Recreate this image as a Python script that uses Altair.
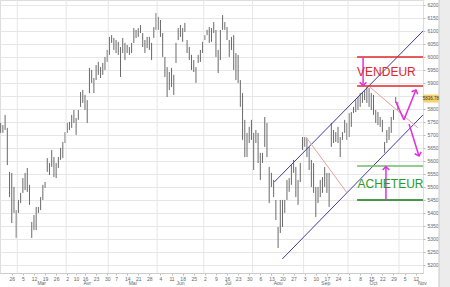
import altair as alt
import pandas as pd

# ---- daily high / low (CAC 40, 2007), one value per trading day from 19 Feb
highs = [5746, 5738, 5777, 5727, 5558, 5554, 5500, 5411, 5450, 5477,
         5534, 5554, 5573, 5508, 5365, 5392, 5423, 5423, 5461, 5508,
         5519, 5611, 5592, 5642, 5615, 5592, 5615, 5650, 5673, 5711,
         5746, 5750, 5777, 5796, 5765, 5796, 5865, 5873, 5854, 5834,
         5958, 5950, 5919, 5969, 5981, 5961, 5977, 6000, 6027, 6077,
         6084, 6073, 6065, 6058, 6038, 6073, 6054, 6046, 6038, 6054,
         6111, 6104, 6111, 6123, 6092, 6065, 6077, 6077, 6054, 6115,
         6169, 6154, 6142, 6092, 6000, 5961, 5942, 5958, 5931, 6054,
         6111, 6123, 6111, 6131, 6065, 6038, 6008, 5988, 5961, 6008,
         6027, 6058, 6084, 6104, 6115, 6111, 6134, 6104, 6027, 6104,
         6161, 6134, 6115, 6065, 6077, 6084, 6015, 6008, 5911, 5861,
         5758, 5708, 5731, 5758, 5708, 5719, 5708, 5631, 5631, 5769,
         5746, 5577, 5554, 5527, 5450, 5346, 5450, 5450, 5450, 5527,
         5534, 5584, 5604, 5577, 5527, 5592, 5692, 5692, 5688, 5654,
         5604, 5592, 5500, 5500, 5527, 5538, 5577, 5554, 5554, 5746,
         5719, 5711, 5731, 5692, 5711, 5758, 5746, 5784, 5788, 5808,
         5834, 5846, 5861, 5865, 5873, 5884, 5881, 5861, 5854, 5796,
         5788, 5769, 5758, 5673, 5719, 5731, 5769, 5796, 5846, 5827]
lows = [5708, 5708, 5719, 5584, 5461, 5361, 5400, 5304, 5400, 5438,
        5477, 5488, 5481, 5431, 5304, 5334, 5334, 5400, 5411, 5450,
        5496, 5558, 5546, 5577, 5538, 5534, 5573, 5604, 5611, 5669,
        5708, 5719, 5727, 5746, 5700, 5758, 5808, 5823, 5796, 5746,
        5861, 5900, 5861, 5911, 5931, 5919, 5931, 5950, 5981, 6008,
        6054, 6027, 6015, 6008, 5923, 6015, 5988, 6015, 6008, 6015,
        6054, 6073, 6077, 6092, 6038, 6015, 6034, 6027, 5988, 6073,
        6104, 6104, 6077, 6000, 5923, 5846, 5873, 5884, 5854, 5977,
        6065, 6077, 6058, 6096, 6015, 5988, 5950, 5942, 5900, 5977,
        5981, 6015, 6065, 6084, 6054, 6058, 6092, 6000, 5938, 5988,
        6104, 6104, 6065, 6000, 6027, 5950, 5911, 5900, 5808, 5681,
        5615, 5615, 5669, 5681, 5565, 5669, 5592, 5527, 5592, 5654,
        5615, 5438, 5500, 5461, 5373, 5265, 5323, 5346, 5400, 5450,
        5481, 5508, 5554, 5461, 5431, 5519, 5642, 5654, 5615, 5565,
        5500, 5477, 5384, 5438, 5461, 5477, 5500, 5477, 5423, 5654,
        5669, 5673, 5669, 5615, 5681, 5708, 5681, 5692, 5731, 5784,
        5788, 5796, 5808, 5823, 5834, 5823, 5808, 5796, 5777, 5746,
        5738, 5731, 5711, 5631, 5669, 5681, 5708, 5758, 5823, 5796]
last_price = "5836.78"
last_price_level = 5840

y_ticks = list(range(5200, 6201, 50))
month_names = ["Mar", "Avr", "Mai", "Jun", "Jul", "Aou", "Sep", "Oct", "Nov"]
holidays = ["2007-04-06", "2007-04-09", "2007-05-01"]

# annotation lines (trading-day index, price)
channel = [(123.3, 5519, 190.3, 6100), (126.9, 5223, 190.3, 5777)]
pink = [(137.6, 5692, 156.1, 5477), (166.4, 5884, 188.0, 5727)]
red = [(160.6, 6000, 190.3, 6000), (160.6, 5888, 190.3, 5888)]
green_light = [(160.6, 5581, 190.3, 5581)]
green_dark = [(160.6, 5450, 190.3, 5450)]
magenta = [(163.3, 6000, 163.3, 5890), (173.6, 5450, 173.6, 5578),
           (178.1, 5827, 181.7, 5758), (181.7, 5758, 187.1, 5873),
           (184.0, 5742, 188.5, 5619)]
heads = [(163.3, 5890, 180), (173.6, 5578, 0), (187.1, 5873, 22), (188.5, 5619, 163)]

# ---- calendar of trading days
cal = [d for d in pd.bdate_range("2007-02-19", "2007-11-20")
       if d.strftime("%Y-%m-%d") not in holidays]
n_days = len(cal)

bars = pd.DataFrame({"s": list(range(len(highs))), "high": highs, "low": lows})

week_idx, week_lab = [], []
for i, d in enumerate(cal):
    if i > 0 and d.isocalendar()[1] != cal[i - 1].isocalendar()[1]:
        week_idx.append(i)
        week_lab.append(str(d.day))
lab_arr = [""] * n_days
for i, l in zip(week_idx, week_lab):
    lab_arr[i] = l
label_expr = "[" + ",".join("'%s'" % l for l in lab_arr) + "][datum.value]"

month_start = []
for i, d in enumerate(cal):
    if i > 0 and d.month != cal[i - 1].month:
        month_start.append(i)
month_start = month_start[:9]
mdf = pd.DataFrame({"s": [m - 0.5 for m in month_start]})
mid = []
for k, m in enumerate(month_start):
    nxt = month_start[k + 1] if k + 1 < len(month_start) else m + 21
    mid.append((m + nxt) / 2 - 0.5)
mlab = pd.DataFrame({"s": mid, "t": month_names})

xs = alt.Scale(domain=[-0.3, 190.3], nice=False, zero=False)
ys = alt.Scale(domain=[5169, 6219], nice=False, zero=False)

x_axis = alt.Axis(
    values=week_idx, labelExpr=label_expr, grid=False, labelFontSize=5,
    labelColor="#666", tickSize=2, tickColor="#bbb", domainColor="#ccc",
    labelPadding=1, labelOverlap=False, labelFlush=False, labelAngle=0,
    labelFont="Liberation Sans")
y_axis = alt.Axis(
    orient="right", values=y_ticks, format="d", labelFontSize=5,
    labelExpr="datum.value == %d ? '' : datum.label" % 5850,
    labelColor="#666", tickSize=2, tickColor="#bbb", domain=False,
    gridColor="#e6e6e6", labelPadding=2, labelFont="Liberation Sans")

X = lambda f="s": alt.X(f + ":Q", scale=xs, axis=x_axis, title=None)
Y = lambda f="p": alt.Y(f + ":Q", scale=ys, axis=y_axis, title=None)

grid_v = alt.Chart(mdf).mark_rule(color="#e6e6e6", strokeWidth=1).encode(
    x=X(), y=alt.value(0), y2=alt.value(273))

bar_layer = alt.Chart(bars).mark_rule(color="#6a6a6a", strokeWidth=1).encode(
    x=X(), y=Y("low"), y2="high:Q")


def seg(rows, color, width):
    df = pd.DataFrame(rows, columns=["s", "p", "s2", "p2"])
    return alt.Chart(df).mark_rule(color=color, strokeWidth=width).encode(
        x=X(), y=Y(), x2="s2:Q", y2="p2:Q")


hdf = pd.DataFrame(heads, columns=["s", "p", "a"])
head_layer = alt.Chart(hdf).mark_point(
    shape="M-1,1L0,0L1,1", filled=False, color="#e030e0", strokeWidth=1.5,
    size=45, opacity=1).encode(
    x=X(), y=Y(), angle=alt.Angle("a:Q", scale=None))

txt = pd.DataFrame({"s": [160.6, 160.8], "p": [5942, 5510],
                    "t": ["VENDEUR", "ACHETEUR"], "c": ["v", "a"]})
text_layer = alt.Chart(txt).mark_text(
    align="left", baseline="middle", fontSize=12, font="Liberation Sans").encode(
    x=X(), y=Y(), text="t:N",
    color=alt.Color("c:N", scale=alt.Scale(domain=["v", "a"],
                    range=["#e02828", "#2a9a2a"]), legend=None))

month_layer = alt.Chart(mlab).mark_text(
    fontSize=5, color="#666", baseline="middle", font="Liberation Sans").encode(
    x=X(), y=alt.value(283), text="t:N")

tag = pd.DataFrame({"p": [last_price_level], "t": [last_price]})
tag_box = alt.Chart(tag).mark_tick(color="#f0c030", thickness=8, size=15,
                                   orient="horizontal").encode(
    y=Y(), x=alt.value(431))
tag_txt = alt.Chart(tag).mark_text(fontSize=4.5, color="#333",
                                   font="Liberation Sans").encode(
    y=Y(), x=alt.value(431), text="t:N")

strip = alt.Chart(pd.DataFrame({"k": [0]})).mark_rect(color="#ececec").encode(
    x=alt.value(439), x2=alt.value(450), y=alt.value(0), y2=alt.value(287))
strip_line = alt.Chart(pd.DataFrame({"k": [0]})).mark_rule(color="#c8c8c8").encode(
    x=alt.value(439), y=alt.value(0), y2=alt.value(287))

chart = alt.layer(
    bar_layer, grid_v,
    seg(channel, "#3c3ca8", 1), seg(pink, "#e4a0a0", 1),
    seg(red, "#e02828", 1.5), seg(green_light, "#6cbc6c", 1.5),
    seg(green_dark, "#107a10", 1.5), seg(magenta, "#e030e0", 1.5),
    head_layer, text_layer, month_layer, strip, strip_line, tag_box, tag_txt
).properties(
    width=423, height=273,
    autosize=alt.AutoSizeParams(type="none"),
    padding={"left": 0, "top": 0, "right": 27, "bottom": 14}
).configure_view(stroke=None).configure(background="white")

chart.save("out.html", embed_options={"renderer": "svg", "actions": False})
